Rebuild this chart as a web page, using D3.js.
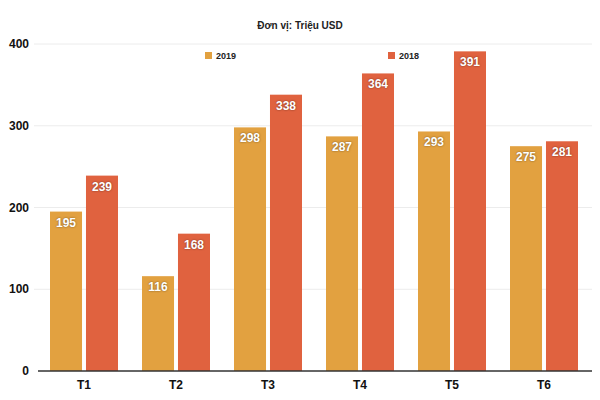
<!DOCTYPE html>
<html><head><meta charset="utf-8">
<script src="https://cdn.jsdelivr.net/npm/d3@7"></script>
<style>body{margin:0;background:#fff}svg{font-family:"Liberation Sans",Arial,sans-serif}</style>
</head><body><svg id="c" width="600" height="400"></svg>
<script>
const categories = ["T1","T2","T3","T4","T5","T6"];
const series = ["2019","2018"];
const values2019 = [195,116,298,287,293,275];
const values2018 = [239,168,338,364,391,281];
const yTicks = [0,100,200,300,400];
const colors = ["#E2A140","#E0623F"];

const svg = d3.select("#c");
const m = {l:38, r:10, t:44, b:29};
const W = 600, H = 400;
const x = d3.scaleBand().domain(categories).range([m.l, W-m.r]).paddingInner(0).paddingOuter(0);
const x1 = d3.scaleBand().domain(series).range([12, x.bandwidth()-12]).paddingInner(0.11);
const y = d3.scaleLinear().domain([0,400]).range([H-m.b, m.t]);

// grid
svg.append("g").selectAll("line").data(yTicks.filter(d=>d>0)).join("line")
  .attr("x1", m.l-4).attr("x2", W-m.r+2).attr("y1", d=>y(d)).attr("y2", d=>y(d))
  .attr("stroke","#ececec").attr("stroke-width",1);

// y labels
svg.append("g").selectAll("text").data(yTicks).join("text")
  .attr("x", 29).attr("y", d=>y(d)+4).attr("text-anchor","end")
  .attr("font-size",12).attr("font-weight","bold").attr("fill","#111").text(d=>d);

const data = categories.map((c,i)=>({c, v:[values2019[i], values2018[i]]}));
const g = svg.append("g").selectAll("g").data(data).join("g")
  .attr("transform", d=>`translate(${x(d.c)},0)`);
g.selectAll("rect").data(d=>d.v.map((v,i)=>({s:series[i],v,i}))).join("rect")
  .attr("x", d=>x1(d.s)).attr("width", x1.bandwidth())
  .attr("y", d=>y(d.v)).attr("height", d=>y(0)-y(d.v))
  .attr("fill", d=>colors[d.i]);
g.selectAll("text").data(d=>d.v.map((v,i)=>({s:series[i],v,i}))).join("text")
  .attr("x", d=>x1(d.s)+x1.bandwidth()/2).attr("y", d=>y(d.v)+15)
  .attr("text-anchor","middle").attr("font-size",12).attr("font-weight","bold")
  .attr("fill","#fff").style("text-shadow","0 0 2px rgba(0,0,0,0.5)").text(d=>d.v);

// axis line
svg.append("line").attr("x1", m.l).attr("x2", W-m.r+2).attr("y1", y(0)).attr("y2", y(0))
  .attr("stroke","#333").attr("stroke-width",1.5);

// x labels
svg.append("g").selectAll("text").data(categories).join("text")
  .attr("x", d=>x(d)+x.bandwidth()/2).attr("y", 389).attr("text-anchor","middle")
  .attr("font-size",12).attr("font-weight","bold").attr("fill","#111").text(d=>d);

// title
svg.append("text").attr("x", 300).attr("y", 29).attr("text-anchor","middle")
  .attr("font-size",10).attr("font-weight","bold").attr("fill","#222").text("Đơn vị: Triệu USD");

// legend
const legX = [205, 388];
series.forEach((s,i)=>{
  svg.append("rect").attr("x", legX[i]).attr("y", 52).attr("width",7).attr("height",7).attr("fill", colors[i]);
  svg.append("text").attr("x", legX[i]+11).attr("y", 59).attr("font-size",9).attr("font-weight","bold").attr("fill","#222").text(s);
});
</script></body></html>
